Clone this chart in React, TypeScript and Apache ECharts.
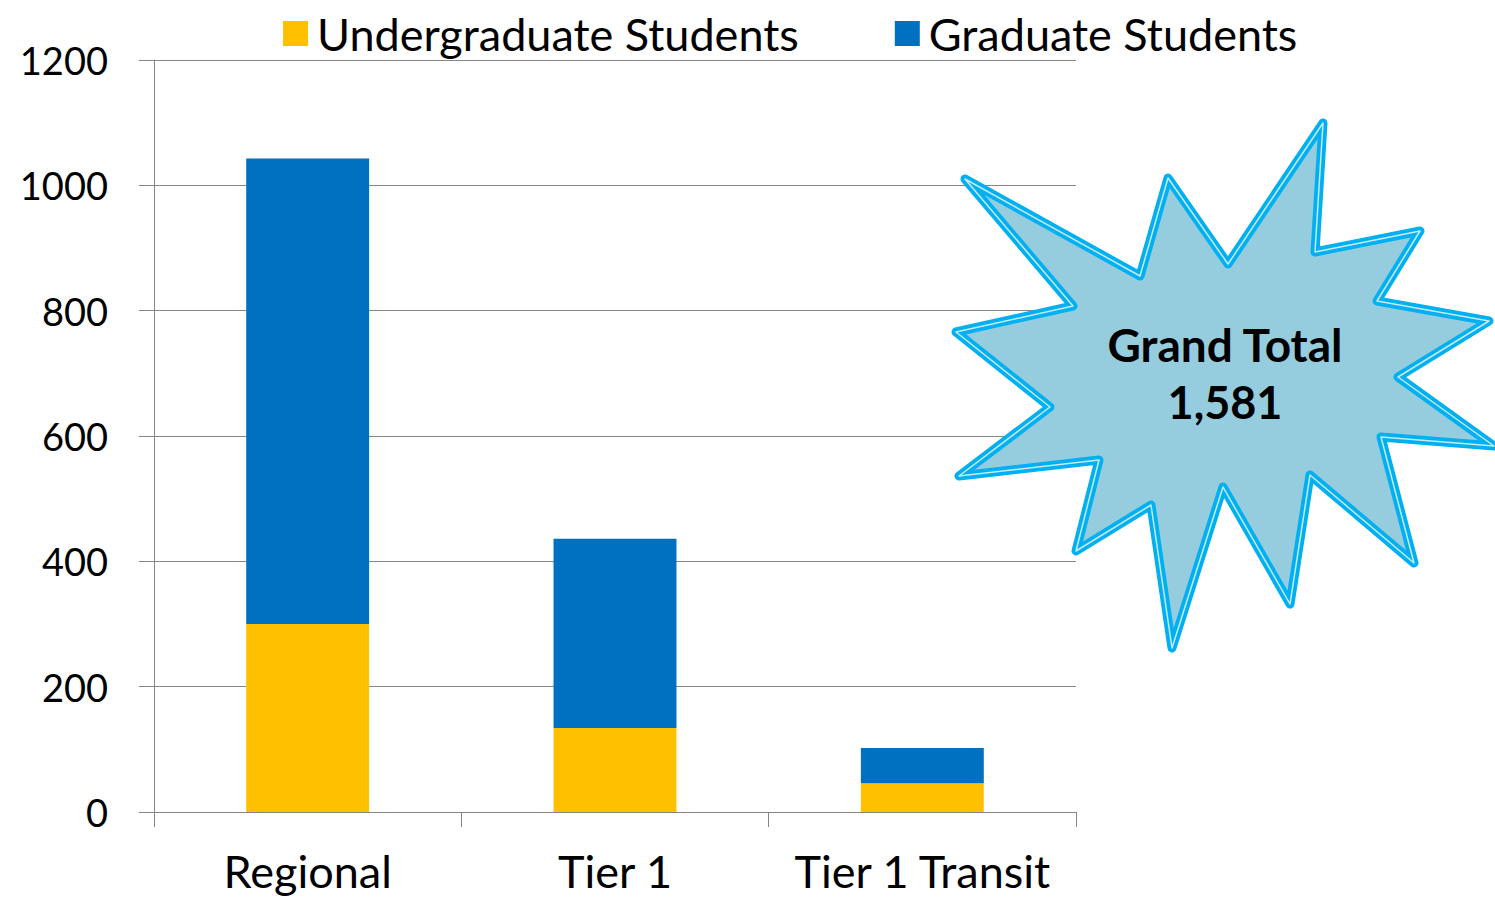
import React, { useEffect, useRef } from "react";
import * as echarts from "echarts";

const categories = ["Regional", "Tier 1", "Tier 1 Transit"];
const undergraduate = [300, 134, 46];
const graduate = [743, 302, 56];
const yTicks = [0, 200, 400, 600, 800, 1000, 1200];
const seriesNames = ["Undergraduate Students", "Graduate Students"];
const grandTotalLabel = "Grand Total";
const grandTotalValue = "1,581";

const FONT = "Lato, 'Open Sans', sans-serif";

// Starburst outline (decoration, pixel coordinates)
const starPoints: number[][] = [
  [965, 179], [1140, 276], [1168, 178], [1228, 264], [1323, 123], [1315, 252],
  [1420, 231], [1377, 301], [1489, 321], [1398, 377], [1494, 446], [1381, 437],
  [1414, 563], [1310, 475], [1290, 604], [1223, 487], [1172, 648], [1151, 505],
  [1076, 551], [1099, 460], [959, 476], [1050, 407], [956, 332], [1073, 306],
];

export default function App() {
  const ref = useRef<HTMLDivElement>(null);
  useEffect(() => {
    document.body.style.margin = "0";
    const chart = echarts.init(ref.current!, undefined, { renderer: "svg" });
    chart.setOption({
      animation: false,
      backgroundColor: "#ffffff",
      textStyle: { fontFamily: FONT },
      legend: {
        left: 278,
        top: 6,
        itemWidth: 25,
        itemHeight: 25,
        itemGap: 96,
        icon: "rect",
        textStyle: { fontSize: 45, color: "#000", fontFamily: FONT, padding: [0, 0, 0, 4] },
        data: seriesNames,
      },
      grid: { left: 154, right: 419, top: 60, bottom: 86, containLabel: false },
      xAxis: {
        type: "category",
        data: categories,
        axisLine: { lineStyle: { color: "#868686", width: 1 } },
        axisTick: { show: true, length: 15, lineStyle: { color: "#868686" } },
        axisLabel: { fontSize: 45, color: "#000", margin: 36, fontFamily: FONT, interval: 0 },
      },
      yAxis: {
        type: "value",
        min: yTicks[0],
        max: yTicks[yTicks.length - 1],
        interval: 200,
        axisLine: { show: true, lineStyle: { color: "#868686", width: 1 } },
        axisTick: { show: true, length: 15, lineStyle: { color: "#868686" } },
        splitLine: { lineStyle: { color: "#868686", width: 1 } },
        axisLabel: {
          fontSize: 38,
          color: "#000",
          margin: 46,
          fontFamily: FONT,
          formatter: (v: number) => String(v),
        },
      },
      series: [
        {
          name: seriesNames[0],
          type: "bar",
          stack: "total",
          barWidth: "40%",
          data: undergraduate,
          itemStyle: { color: "#FFC000" },
        },
        {
          name: seriesNames[1],
          type: "bar",
          stack: "total",
          barWidth: "40%",
          data: graduate,
          itemStyle: { color: "#0070C0" },
        },
      ],
      graphic: [
        {
          type: "polygon",
          shape: { points: starPoints },
          style: { fill: "#96CDDE", stroke: "#00B0F0", lineWidth: 9, lineJoin: "round" },
          z: 100,
        },
        {
          type: "polygon",
          shape: { points: starPoints },
          style: { fill: "none", stroke: "#C8EAF5", lineWidth: 1.5, lineJoin: "round" },
          z: 101,
        },
        {
          type: "text",
          x: 1225,
          y: 344,
          style: {
            text: grandTotalLabel,
            fontSize: 46,
            fontWeight: "bold",
            fill: "#000",
            fontFamily: FONT,
            align: "center",
            verticalAlign: "middle",
          },
          z: 102,
        },
        {
          type: "text",
          x: 1225,
          y: 402,
          style: {
            text: grandTotalValue,
            fontSize: 45,
            fontWeight: "bold",
            fill: "#000",
            fontFamily: FONT,
            align: "center",
            verticalAlign: "middle",
          },
          z: 102,
        },
      ],
    });
    return () => chart.dispose();
  }, []);
  return <div ref={ref} style={{ width: 1495, height: 898 }} />;
}
